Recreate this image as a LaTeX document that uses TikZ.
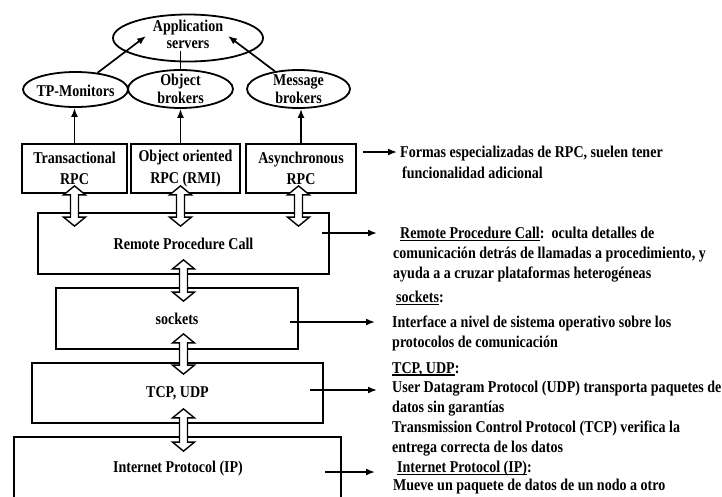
\documentclass[tikz,border=0pt]{standalone}
\usepackage{fontspec}
\setmainfont[FakeStretch=0.85]{Liberation Serif}
\usetikzlibrary{shapes.geometric,arrows.meta,calc}

% underline with a fixed offset below the baseline
\newcommand{\ulined}[1]{\setbox0\hbox{#1}\rlap{\rule[-2.4pt]{\wd0}{1.1pt}}\box0}

\tikzset{
  txt/.style={inner sep=0pt, align=center, font=\bfseries\fontsize{16.5}{17.5}\selectfont},
  layer/.style={draw, line width=1.8pt, inner sep=0pt, align=center,
                font=\bfseries\fontsize{16.5}{21.5}\selectfont},
  oval/.style={ellipse, draw, line width=1.8pt, inner sep=0pt},
  link/.style={line width=1.7pt, -{Latex[length=9pt,width=7pt]}},
  plain/.style={line width=1.7pt},
  note/.style={anchor=north west, inner sep=0pt, align=left,
               font=\bfseries\fontsize{16.5}{19.8}\selectfont},
  hollow/.style={draw, line width=1.4pt, fill=white, line join=miter},
}

% hollow double-headed block arrow between two points on one vertical
\newcommand{\hollowarrow}[2]{%
  \path[hollow] let \p1=#1, \p2=#2 in
    (\x1,\y1) -- ({\x1+11pt},{\y1-9pt}) -- ({\x1+4pt},{\y1-9pt})
    -- ({\x1+4pt},{\y2+9pt}) -- ({\x1+11pt},{\y2+9pt}) -- (\x1,\y2)
    -- ({\x1-11pt},{\y2+9pt}) -- ({\x1-4pt},{\y2+9pt})
    -- ({\x1-4pt},{\y1-9pt}) -- ({\x1-11pt},{\y1-9pt}) -- cycle;}

\begin{document}
\begin{tikzpicture}[x=1pt,y=-1pt]
\useasboundingbox[fill=white] (0,0) rectangle (722,496);

% middleware servers
\node[oval, minimum width=150pt, minimum height=47pt] (app) at (188,38) {};
\node[txt] (appT) at (188,34.5) {Application\\servers};
\node[oval, minimum width=105pt, minimum height=35pt] (tpm) at (75.5,89.5) {};
\node[txt] (tpmT) at (75.5,90.5) {TP-Monitors};
\node[oval, minimum width=105pt, minimum height=38pt] (obj) at (180.5,89) {};
\node[txt] (objT) at (180.5,89) {Object\\brokers};
\node[oval, minimum width=103pt, minimum height=38pt] (msg) at (298.5,89) {};
\node[txt] (msgT) at (298.5,89) {Message\\brokers};

% specialised RPC flavours
\node[layer, minimum width=105pt, minimum height=49pt] (trpc) at (74.5,168.5) {Transactional\\RPC};
\node[layer, minimum width=109pt, minimum height=49pt] (orpc) at (185.5,168.5) {Object oriented\\RPC (RMI)};
\node[layer, minimum width=110pt, minimum height=49pt] (arpc) at (301,168.5) {Asynchronous\\RPC};

% protocol stack
\node[layer, minimum width=291pt, minimum height=61pt] (rpc) at (183.5,243.5) {Remote Procedure Call};
\node[layer, minimum width=242pt, minimum height=61pt] (sock) at (177,318.5) {sockets};
\node[layer, minimum width=291pt, minimum height=60pt] (tcp) at (177.5,393) {TCP, UDP};
\node[layer, minimum width=327pt, minimum height=90pt] (ip) at (177.5,482) {};
\node[txt] (ipT) at (178,469) {Internet Protocol (IP)};

% arrows towards the servers
\coordinate (appL) at (146,36);
\coordinate (appR) at (228,36);
\coordinate (appM) at (181,51);
\draw[link] (tpm) -- (appL);
\draw[link] (msg) -- (appR);
\draw[plain] (obj.north) -- (obj.north |- appM);
\draw[link] (trpc.north) -- (trpc.north |- tpm.south);
\draw[link] (orpc.north -| obj.south) -- (obj.south);
\draw[link] (arpc.north) -- (arpc.north |- msg.south);

% hollow arrows between layers
\hollowarrow{($(trpc.south)+(0,-8)$)}{($(rpc.north -| trpc.south)+(0,14)$)}
\hollowarrow{($(orpc.south -| obj.south)+(0,-8)$)}{($(rpc.north -| obj.south)+(0,14)$)}
\hollowarrow{($(arpc.south -| msg.south)+(0,-8)$)}{($(rpc.north -| msg.south)+(0,14)$)}
\hollowarrow{($(rpc.south)+(0,-15)$)}{($(sock.north -| rpc.south)+(0,14)$)}
\hollowarrow{($(sock.south -| rpc.south)+(0,-16)$)}{($(tcp.north -| rpc.south)+(0,12)$)}
\hollowarrow{($(tcp.south -| rpc.south)+(0,-15)$)}{($(ip.north -| rpc.south)+(0,15)$)}

% descriptions
\node[note] (dForm) at (400,146) {Formas especializadas de RPC, suelen tener\\[1pt]\hspace*{2pt}funcionalidad adicional};
\node[note] (dRpc) at (393,227) {\hspace*{7pt}\ulined{Remote Procedure Call}:\ \ oculta detalles de\\comunicación detrás de llamadas a procedimiento, y\\ayuda a a cruzar plataformas heterogéneas};
\node[note] (dSock) at (392,291) {\hspace*{4pt}\ulined{sockets}:\\[5pt]Interface a nivel de sistema operativo sobre los\\protocolos de comunicación};
\node[note] (dTcp) at (392,362) {\ulined{TCP, UDP}:\\User Datagram Protocol (UDP) transporta paquetes de\\datos sin garantías\\Transmission Control Protocol (TCP) verifica la\\entrega correcta de los datos};
\node[note] (dIp) at (393,461) {\hspace*{4pt}\ulined{Internet Protocol (IP)}:\\[-2pt]Mueve un paquete de datos de un nodo a otro};

% pointers from the layers to their descriptions
\coordinate (fA) at (363,152);   \coordinate (fB) at (397,152);
\coordinate (rA) at (322,233);   \coordinate (rB) at (377,233);
\coordinate (sA) at (290,322);   \coordinate (sB) at (375,322);
\coordinate (tA) at (310,390);   \coordinate (tB) at (377,390);
\coordinate (iA) at (325,472);   \coordinate (iB) at (375,472);
\draw[link] (fA) -- (fB);
\draw[link] (rA) -- (rB);
\draw[link] (sA) -- (sB);
\draw[link] (tA) -- (tB);
\draw[link] (iA) -- (iB);
\end{tikzpicture}
\end{document}
